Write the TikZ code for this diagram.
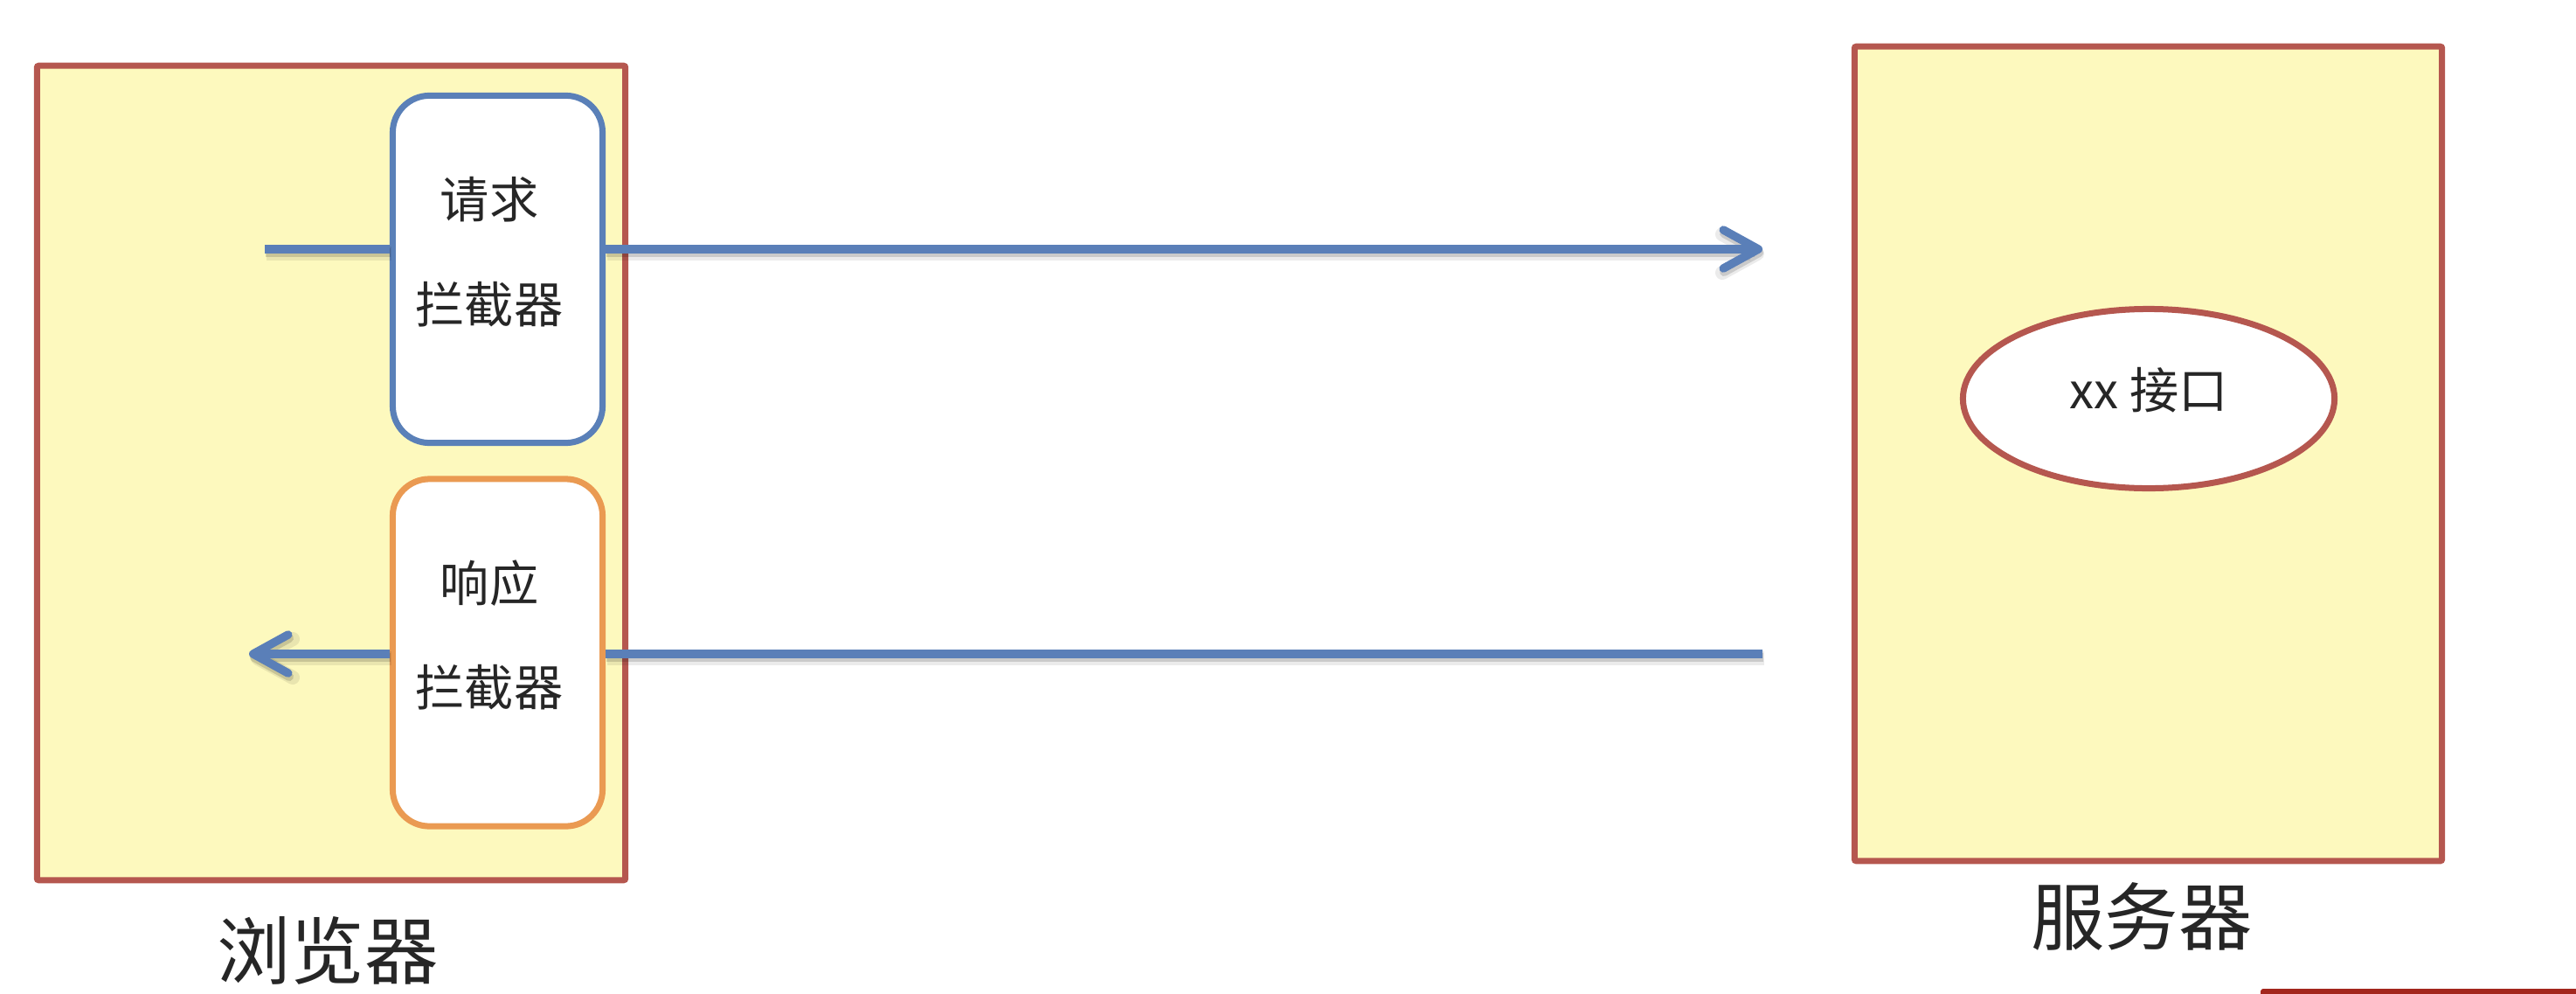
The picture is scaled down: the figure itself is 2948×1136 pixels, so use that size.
\documentclass[tikz,border=0pt]{standalone}
\usepackage{fontspec}
\setmainfont{Noto Sans CJK SC}
\usetikzlibrary{arrows.meta,shapes.geometric}
\definecolor{panelfill}{HTML}{FDF9BE}
\definecolor{panelline}{HTML}{B5574F}
\definecolor{reqblue}{HTML}{5A80B8}
\definecolor{resporange}{HTML}{EA9A52}
\definecolor{ink}{HTML}{262626}
\definecolor{flowblue}{HTML}{5A7FB8}
\definecolor{barred}{HTML}{A3261D}
\begin{document}
\begin{tikzpicture}[x=0.01cm,y=-0.01cm,
  panel/.style={draw=panelline, fill=panelfill, line width=0.07cm, rounded corners=0.02cm, inner sep=0pt},
  filter/.style={draw=#1, fill=white, line width=0.07cm, rounded corners=0.42cm,
    minimum width=2.40cm, minimum height=3.97cm, inner sep=0pt},
  caption/.style={text=ink, font=\fontsize{16}{34}\selectfont, align=center, inner sep=0pt},
  title/.style={text=ink, font=\fontsize{24}{28}\selectfont, inner sep=0pt},
  tip/.style={-{Straight Barb[length=0.40cm,width=0.44cm,round]}},
  wire/.style={draw=flowblue, line width=0.095cm,
    preaction={draw=black, opacity=0.08, line width=0.16cm,
      transform canvas={shift={(0.02cm,-0.05cm)}}},
    preaction={draw=black, opacity=0.14, line width=0.10cm,
      transform canvas={shift={(0.01cm,-0.04cm)}}}},
]
\useasboundingbox (0,0) rectangle (2948,1136);

% the two machines
\node[panel, minimum width=6.73cm, minimum height=9.31cm] (browser) at (379,541) {};
\node[panel, minimum width=6.72cm, minimum height=9.31cm] (server) at (2458.5,519) {};

% endpoint on the server
\node[ellipse, draw=panelline, fill=white, line width=0.07cm, inner sep=0pt,
      minimum width=4.25cm, minimum height=2.05cm] (iface) at (2459,456) {};
\node[caption] (ifacetxt) at (2459,446) {xx 接口};

% interceptors in the browser
\node[filter=reqblue] (req) at (569.5,308) {};
\node[filter=resporange] (resp) at (569.5,746.5) {};
\node[caption] (reqtxt) at (560,288) {请求\\拦截器};
\node[caption] (resptxt) at (560,726.5) {响应\\拦截器};

% request flow
\coordinate (reqstart) at (303,285);
\coordinate (reqend) at (2017,285);
\draw[wire] (reqstart) -- (reqstart -| req.west);
\draw[wire, tip] (reqstart -| req.east) -- (reqend);

% response flow
\coordinate (respstart) at (2017,748);
\coordinate (respend) at (285,748);
\draw[wire] (respstart) -- (respstart -| resp.east);
\draw[wire, tip] (respstart -| resp.west) -- (respend);

% captions
\node[title] (browsertxt) at (375,1087) {浏览器};
\node[title] (servertxt) at (2451,1048) {服务器};

% edge of a shape running off the lower right corner
\fill[barred, rounded corners=0.03cm] (2587,1131) rectangle (2990,1170);
\end{tikzpicture}
\end{document}
